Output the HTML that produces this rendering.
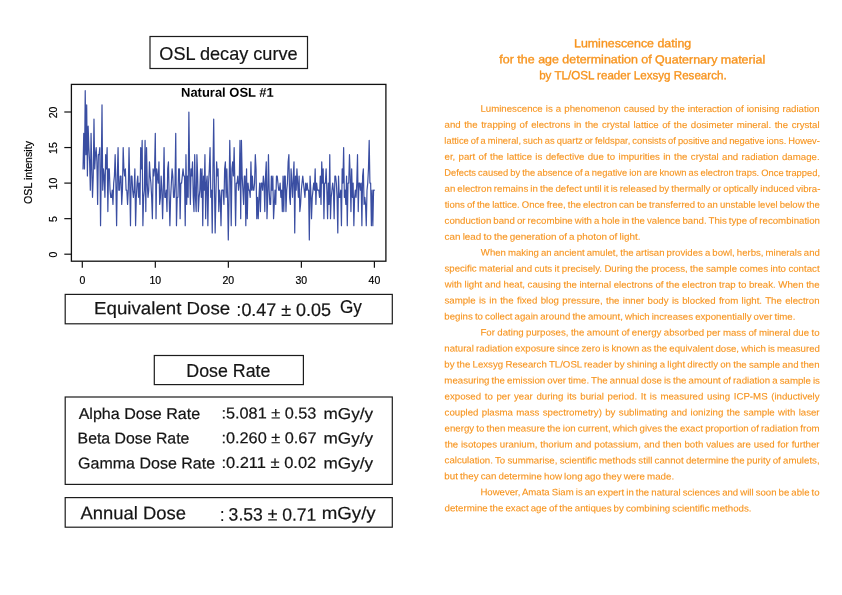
<!DOCTYPE html>
<html lang="en"><head><meta charset="utf-8"><title>OSL decay curve</title>
<style>
html,body{margin:0;padding:0;background:#fff;}
body{width:842px;height:595px;position:relative;overflow:hidden;font-family:"Liberation Sans", sans-serif;}
.t{position:absolute;left:0;top:0;white-space:pre;line-height:1;transform-origin:0 0;}
.b{position:absolute;left:0;top:0;white-space:nowrap;line-height:10px;transform-origin:0 0;color:#f7941e;font-size:9.3px;text-align:justify;text-align-last:justify;word-spacing:-0.06em;-webkit-text-stroke:0.12px #f7941e;}
.bl{text-align:left;text-align-last:left;}
svg text{font-family:"Liberation Sans", sans-serif;}
</style></head><body>
<svg width="842" height="595" viewBox="0 0 842 595" style="position:absolute;left:0;top:0">
<rect x="150.0" y="36.5" width="157.5" height="32.0" fill="none" stroke="#1c1c1c" stroke-width="1.2"/>
<rect x="65.2" y="294.4" width="327.1" height="29.4" fill="none" stroke="#1c1c1c" stroke-width="1.2"/>
<rect x="154.3" y="355.5" width="149.1" height="29.1" fill="none" stroke="#1c1c1c" stroke-width="1.2"/>
<rect x="65.2" y="397.0" width="327.1" height="87.4" fill="none" stroke="#1c1c1c" stroke-width="1.2"/>
<rect x="65.2" y="497.6" width="327.1" height="29.6" fill="none" stroke="#1c1c1c" stroke-width="1.2"/>
<polyline points="83.03,168.88 83.76,133.33 84.49,168.88 85.22,90.67 85.95,154.66 86.68,104.89 87.41,175.99 88.14,126.22 88.87,147.55 89.60,161.77 90.33,190.21 91.06,133.33 91.79,168.88 92.52,197.32 93.25,175.99 93.98,119.11 94.71,168.88 95.44,154.66 96.17,147.55 96.90,161.77 97.63,204.43 98.36,154.66 99.09,154.66 99.82,147.55 100.55,225.76 101.28,168.88 102.01,104.89 102.74,190.21 103.47,168.88 104.20,175.99 104.93,197.32 105.66,154.66 106.39,168.88 107.12,147.55 107.85,211.54 108.58,168.88 109.31,168.88 110.04,190.21 110.77,197.32 111.50,197.32 112.23,190.21 112.96,204.43 113.69,183.10 114.42,175.99 115.15,154.66 115.88,183.10 116.61,225.76 117.34,175.99 118.07,147.55 118.80,190.21 119.53,190.21 120.26,175.99 120.99,175.99 121.72,204.43 122.45,190.21 123.18,147.55 123.91,168.88 124.64,175.99 125.37,168.88 126.10,190.21 126.83,190.21 127.56,204.43 128.29,190.21 129.02,147.55 129.75,183.10 130.48,225.76 131.21,175.99 131.94,175.99 132.67,190.21 133.40,197.32 134.13,190.21 134.86,168.88 135.59,225.76 136.32,197.32 137.05,183.10 137.78,175.99 138.51,197.32 139.24,183.10 139.97,204.43 140.70,147.55 141.43,168.88 142.16,140.44 142.89,225.76 143.62,197.32 144.35,190.21 145.08,140.44 145.81,211.54 146.54,147.55 147.27,183.10 148.00,197.32 148.73,190.21 149.46,161.77 150.19,175.99 150.92,183.10 151.65,197.32 152.38,218.65 153.11,168.88 153.84,175.99 154.57,168.88 155.30,133.33 156.03,218.65 156.76,168.88 157.49,175.99 158.22,183.10 158.95,161.77 159.68,204.43 160.41,197.32 161.14,175.99 161.87,190.21 162.60,218.65 163.33,190.21 164.06,147.55 164.79,197.32 165.52,197.32 166.25,190.21 166.98,211.54 167.71,168.88 168.44,161.77 169.17,197.32 169.90,225.76 170.63,197.32 171.36,183.10 172.09,168.88 172.82,175.99 173.55,197.32 174.28,197.32 175.01,183.10 175.74,133.33 176.47,225.76 177.20,197.32 177.93,197.32 178.66,168.88 179.39,168.88 180.12,218.65 180.85,183.10 181.58,183.10 182.31,175.99 183.04,168.88 183.77,175.99 184.50,175.99 185.23,225.76 185.96,154.66 186.69,204.43 187.42,175.99 188.15,197.32 188.88,112.00 189.61,168.88 190.34,204.43 191.07,168.88 191.80,175.99 192.53,161.77 193.26,197.32 193.99,211.54 194.72,154.66 195.45,197.32 196.18,211.54 196.91,154.66 197.64,175.99 198.37,211.54 199.10,197.32 199.83,190.21 200.56,168.88 201.29,197.32 202.02,168.88 202.75,225.76 203.48,175.99 204.21,190.21 204.94,154.66 205.67,218.65 206.40,183.10 207.13,175.99 207.86,225.76 208.59,183.10 209.32,168.88 210.05,147.55 210.78,197.32 211.51,190.21 212.24,232.87 212.97,168.88 213.70,119.11 214.43,183.10 215.16,232.87 215.89,197.32 216.62,161.77 217.35,175.99 218.08,168.88 218.81,211.54 219.54,190.21 220.27,197.32 221.00,225.76 221.73,190.21 222.46,190.21 223.19,190.21 223.92,204.43 224.65,168.88 225.38,161.77 226.11,197.32 226.84,168.88 227.57,197.32 228.30,239.98 229.03,197.32 229.76,140.44 230.49,175.99 231.22,225.76 231.95,168.88 232.68,161.77 233.41,175.99 234.14,147.55 234.87,183.10 235.60,225.76 236.33,183.10 237.06,183.10 237.79,175.99 238.52,190.21 239.25,183.10 239.98,140.44 240.71,218.65 241.44,140.44 242.17,175.99 242.90,190.21 243.63,204.43 244.36,175.99 245.09,175.99 245.82,225.76 246.55,168.88 247.28,218.65 248.01,183.10 248.74,190.21 249.47,190.21 250.20,197.32 250.93,161.77 251.66,190.21 252.39,175.99 253.12,190.21 253.85,190.21 254.58,183.10 255.31,154.66 256.04,168.88 256.77,218.65 257.50,197.32 258.23,218.65 258.96,197.32 259.69,183.10 260.42,211.54 261.15,183.10 261.88,183.10 262.61,190.21 263.34,175.99 264.07,183.10 264.80,211.54 265.53,175.99 266.26,161.77 266.99,218.65 267.72,197.32 268.45,154.66 269.18,190.21 269.91,204.43 270.64,204.43 271.37,175.99 272.10,190.21 272.83,175.99 273.56,218.65 274.29,204.43 275.02,190.21 275.75,204.43 276.48,175.99 277.21,175.99 277.94,183.10 278.67,190.21 279.40,190.21 280.13,183.10 280.86,197.32 281.59,190.21 282.32,211.54 283.05,175.99 283.78,211.54 284.51,175.99 285.24,175.99 285.97,211.54 286.70,190.21 287.43,183.10 288.16,161.77 288.89,154.66 289.62,197.32 290.35,204.43 291.08,168.88 291.81,183.10 292.54,197.32 293.27,175.99 294.00,161.77 294.73,232.87 295.46,175.99 296.19,190.21 296.92,168.88 297.65,183.10 298.38,197.32 299.11,175.99 299.84,211.54 300.57,204.43 301.30,190.21 302.03,183.10 302.76,175.99 303.49,183.10 304.22,190.21 304.95,197.32 305.68,183.10 306.41,190.21 307.14,183.10 307.87,190.21 308.60,190.21 309.33,239.98 310.06,175.99 310.79,190.21 311.52,218.65 312.25,197.32 312.98,190.21 313.71,183.10 314.44,190.21 315.17,168.88 315.90,204.43 316.63,183.10 317.36,190.21 318.09,190.21 318.82,190.21 319.55,197.32 320.28,175.99 321.01,204.43 321.74,161.77 322.47,183.10 323.20,168.88 323.93,218.65 324.66,183.10 325.39,183.10 326.12,168.88 326.85,190.21 327.58,218.65 328.31,183.10 329.04,204.43 329.77,154.66 330.50,218.65 331.23,197.32 331.96,190.21 332.69,183.10 333.42,190.21 334.15,218.65 334.88,175.99 335.61,175.99 336.34,183.10 337.07,197.32 337.80,232.87 338.53,175.99 339.26,197.32 339.99,197.32 340.72,190.21 341.45,225.76 342.18,168.88 342.91,183.10 343.64,147.55 344.37,197.32 345.10,190.21 345.83,204.43 346.56,175.99 347.29,225.76 348.02,183.10 348.75,183.10 349.48,154.66 350.21,175.99 350.94,211.54 351.67,168.88 352.40,197.32 353.13,183.10 353.86,225.76 354.59,197.32 355.32,190.21 356.05,197.32 356.78,183.10 357.51,154.66 358.24,211.54 358.97,183.10 359.70,183.10 360.43,190.21 361.16,183.10 361.89,225.76 362.62,175.99 363.35,168.88 364.08,204.43 364.81,197.32 365.54,204.43 366.27,225.76 367.00,190.21 367.73,183.10 368.46,168.88 369.19,140.44 369.92,183.10 370.65,183.10 371.38,225.76 372.11,190.21 372.84,225.76 373.57,190.21 374.30,190.21" fill="none" stroke="#3a4ea2" stroke-width="1.2" stroke-linejoin="round" stroke-linecap="round"/>
<rect x="71.4" y="84.4" width="314.5" height="176.8" fill="none" stroke="#111" stroke-width="1.3"/>
<line x1="64.3" y1="254.20" x2="71.4" y2="254.20" stroke="#111" stroke-width="1.2"/>
<text transform="translate(56.6,254.70) rotate(-90)" text-anchor="middle" font-size="10.5" fill="#000" stroke="#000" stroke-width="0.2">0</text>
<line x1="64.3" y1="218.65" x2="71.4" y2="218.65" stroke="#111" stroke-width="1.2"/>
<text transform="translate(56.6,219.15) rotate(-90)" text-anchor="middle" font-size="10.5" fill="#000" stroke="#000" stroke-width="0.2">5</text>
<line x1="64.3" y1="183.10" x2="71.4" y2="183.10" stroke="#111" stroke-width="1.2"/>
<text transform="translate(56.6,183.60) rotate(-90)" text-anchor="middle" font-size="10.5" fill="#000" stroke="#000" stroke-width="0.2">10</text>
<line x1="64.3" y1="147.55" x2="71.4" y2="147.55" stroke="#111" stroke-width="1.2"/>
<text transform="translate(56.6,148.05) rotate(-90)" text-anchor="middle" font-size="10.5" fill="#000" stroke="#000" stroke-width="0.2">15</text>
<line x1="64.3" y1="112.00" x2="71.4" y2="112.00" stroke="#111" stroke-width="1.2"/>
<text transform="translate(56.6,112.50) rotate(-90)" text-anchor="middle" font-size="10.5" fill="#000" stroke="#000" stroke-width="0.2">20</text>
<line x1="82.30" y1="261.2" x2="82.30" y2="267.7" stroke="#111" stroke-width="1.2"/>
<text x="82.30" y="283.7" text-anchor="middle" font-size="10.5" fill="#000" stroke="#000" stroke-width="0.2">0</text>
<line x1="155.32" y1="261.2" x2="155.32" y2="267.7" stroke="#111" stroke-width="1.2"/>
<text x="155.32" y="283.7" text-anchor="middle" font-size="10.5" fill="#000" stroke="#000" stroke-width="0.2">10</text>
<line x1="228.35" y1="261.2" x2="228.35" y2="267.7" stroke="#111" stroke-width="1.2"/>
<text x="228.35" y="283.7" text-anchor="middle" font-size="10.5" fill="#000" stroke="#000" stroke-width="0.2">20</text>
<line x1="301.38" y1="261.2" x2="301.38" y2="267.7" stroke="#111" stroke-width="1.2"/>
<text x="301.38" y="283.7" text-anchor="middle" font-size="10.5" fill="#000" stroke="#000" stroke-width="0.2">30</text>
<line x1="374.40" y1="261.2" x2="374.40" y2="267.7" stroke="#111" stroke-width="1.2"/>
<text x="374.40" y="283.7" text-anchor="middle" font-size="10.5" fill="#000" stroke="#000" stroke-width="0.2">40</text>
<text transform="translate(32.0,172.5) rotate(-90)" text-anchor="middle" font-size="10.65" fill="#000" stroke="#000" stroke-width="0.2">OSL intensity</text>
</svg>
<div class="t" style="line-height:21px;font-size:18.6px;font-weight:400;-webkit-text-stroke:0.2px #141414;color:#141414;transform:translate(159.33px,42.50px) matrix(1,0.0005,0,1,0,0) scaleX(0.9743)">OSL decay curve</div>
<div class="t" style="line-height:15px;font-size:12.9px;font-weight:700;color:#000;transform:translate(181.04px,84.80px) matrix(1,0.0005,0,1,0,0) scaleX(1.0062)">Natural OSL #1</div>
<div class="t" style="line-height:20px;font-size:17.8px;font-weight:400;-webkit-text-stroke:0.2px #141414;color:#141414;transform:translate(94.06px,298.30px) matrix(1,0.0005,0,1,0,0) scaleX(1.0519)">Equivalent Dose</div>
<div class="t" style="line-height:21px;font-size:18.3px;font-weight:400;-webkit-text-stroke:0.2px #141414;color:#141414;transform:translate(236.52px,299.00px) matrix(1,0.0005,0,1,0,0) scaleX(0.9000)">:</div>
<div class="t" style="line-height:21px;font-size:18.3px;font-weight:400;-webkit-text-stroke:0.2px #141414;color:#141414;transform:translate(241.38px,299.00px) matrix(1,0.0005,0,1,0,0) scaleX(0.9808)">0.47 ± 0.05</div>
<div class="t" style="line-height:20px;font-size:17.8px;font-weight:400;-webkit-text-stroke:0.2px #141414;color:#141414;transform:translate(339.94px,296.80px) matrix(1,0.0005,0,1,0,0) scaleX(0.9645)">Gy</div>
<div class="t" style="line-height:21px;font-size:18.7px;font-weight:400;-webkit-text-stroke:0.2px #141414;color:#141414;transform:translate(186.34px,360.10px) matrix(1,0.0005,0,1,0,0) scaleX(0.9521)">Dose Rate</div>
<div class="t" style="line-height:17px;font-size:15.7px;font-weight:400;-webkit-text-stroke:0.2px #141414;color:#141414;transform:translate(78.63px,404.90px) matrix(1,0.0005,0,1,0,0) scaleX(1.0252)">Alpha Dose Rate</div>
<div class="t" style="line-height:17px;font-size:15.7px;font-weight:400;-webkit-text-stroke:0.2px #141414;color:#141414;transform:translate(77.59px,429.40px) matrix(1,0.0005,0,1,0,0) scaleX(1.0095)">Beta Dose Rate</div>
<div class="t" style="line-height:17px;font-size:15.7px;font-weight:400;-webkit-text-stroke:0.2px #141414;color:#141414;transform:translate(78.07px,454.50px) matrix(1,0.0005,0,1,0,0) scaleX(1.0208)">Gamma Dose Rate</div>
<div class="t" style="line-height:17px;font-size:15.8px;font-weight:400;-webkit-text-stroke:0.2px #141414;color:#141414;transform:translate(221.41px,404.40px) matrix(1,0.0005,0,1,0,0) scaleX(1.0311)">:5.081 ± 0.53</div>
<div class="t" style="line-height:17px;font-size:15.8px;font-weight:400;-webkit-text-stroke:0.2px #141414;color:#141414;transform:translate(221.41px,429.20px) matrix(1,0.0005,0,1,0,0) scaleX(1.0320)">:0.260 ± 0.67</div>
<div class="t" style="line-height:17px;font-size:15.8px;font-weight:400;-webkit-text-stroke:0.2px #141414;color:#141414;transform:translate(221.39px,454.00px) matrix(1,0.0005,0,1,0,0) scaleX(1.0429)">:0.211 ± 0.02</div>
<div class="t" style="line-height:17px;font-size:15.7px;font-weight:400;-webkit-text-stroke:0.2px #141414;color:#141414;transform:translate(323.49px,404.90px) matrix(1,0.0005,0,1,0,0) scaleX(1.0970)">mGy/y</div>
<div class="t" style="line-height:17px;font-size:15.7px;font-weight:400;-webkit-text-stroke:0.2px #141414;color:#141414;transform:translate(323.49px,429.60px) matrix(1,0.0005,0,1,0,0) scaleX(1.0970)">mGy/y</div>
<div class="t" style="line-height:17px;font-size:15.7px;font-weight:400;-webkit-text-stroke:0.2px #141414;color:#141414;transform:translate(323.49px,454.40px) matrix(1,0.0005,0,1,0,0) scaleX(1.0970)">mGy/y</div>
<div class="t" style="line-height:21px;font-size:18.3px;font-weight:400;-webkit-text-stroke:0.2px #141414;color:#141414;transform:translate(80.44px,502.30px) matrix(1,0.0005,0,1,0,0) scaleX(1.0080)">Annual Dose</div>
<div class="t" style="line-height:20px;font-size:17.9px;font-weight:400;-webkit-text-stroke:0.2px #141414;color:#141414;transform:translate(220.01px,504.60px) matrix(1,0.0005,0,1,0,0) scaleX(0.9000)">:</div>
<div class="t" style="line-height:20px;font-size:17.9px;font-weight:400;-webkit-text-stroke:0.2px #141414;color:#141414;transform:translate(228.62px,504.60px) matrix(1,0.0005,0,1,0,0) scaleX(0.9810)">3.53 ± 0.71</div>
<div class="t" style="line-height:20px;font-size:17.6px;font-weight:400;-webkit-text-stroke:0.2px #141414;color:#141414;transform:translate(321.70px,502.90px) matrix(1,0.0005,0,1,0,0) scaleX(1.0622)">mGy/y</div>
<div class="t" style="line-height:14px;font-size:11.8px;font-weight:400;-webkit-text-stroke:0.35px #f7941e;color:#f7941e;transform:translate(573.98px,36.30px) matrix(1,0.0005,0,1,0,0) scaleX(1.0521)">Luminescence dating</div>
<div class="t" style="line-height:14px;font-size:11.8px;font-weight:400;-webkit-text-stroke:0.35px #f7941e;color:#f7941e;transform:translate(499.37px,52.30px) matrix(1,0.0005,0,1,0,0) scaleX(1.0555)">for the age determination of Quaternary material</div>
<div class="t" style="line-height:14px;font-size:11.8px;font-weight:400;-webkit-text-stroke:0.35px #f7941e;color:#f7941e;transform:translate(539.13px,68.20px) matrix(1,0.0005,0,1,0,0) scaleX(0.9826)">by TL/OSL reader Lexsyg Research.</div>
<div class="b" style="width:326.15px;transform:translate(480.40px,103.80px) matrix(1,0.0005,0,1,0,0) scaleX(1.0400)">Luminescence is a phenomenon caused by the interaction of ionising radiation</div>
<div class="b" style="width:360.65px;transform:translate(444.52px,119.78px) matrix(1,0.0005,0,1,0,0) scaleX(1.0400)">and the trapping of electrons in the crystal lattice of the dosimeter mineral. the crystal</div>
<div class="b" style="width:373.74px;transform:translate(444.37px,135.76px) matrix(1,0.0005,0,1,0,0) scaleX(1.0040)">lattice of a mineral, such as quartz or feldspar, consists of positive and negative ions. Howev-</div>
<div class="b" style="width:360.63px;transform:translate(444.54px,151.74px) matrix(1,0.0005,0,1,0,0) scaleX(1.0400)">er, part of the lattice is defective due to impurities in the crystal and radiation damage.</div>
<div class="b" style="width:372.59px;transform:translate(444.23px,167.72px) matrix(1,0.0005,0,1,0,0) scaleX(1.0075)">Defects caused by the absence of a negative ion are known as electron traps. Once trapped,</div>
<div class="b" style="width:360.88px;transform:translate(444.52px,183.70px) matrix(1,0.0005,0,1,0,0) scaleX(1.0394)">an electron remains in the defect until it is released by thermally or optically induced vibra-</div>
<div class="b" style="width:366.03px;transform:translate(444.69px,199.68px) matrix(1,0.0005,0,1,0,0) scaleX(1.0242)">tions of the lattice. Once free, the electron can be transferred to an unstable level below the</div>
<div class="b" style="width:361.18px;transform:translate(444.55px,215.66px) matrix(1,0.0005,0,1,0,0) scaleX(1.0384)">conduction band or recombine with a hole in the valence band. This type of recombination</div>
<div class="b bl" style="transform:translate(444.54px,231.64px) matrix(1,0.0005,0,1,0,0) scaleX(1.0635)">can lead to the generation of a photon of light.</div>
<div class="b" style="width:328.43px;transform:translate(480.83px,247.62px) matrix(1,0.0005,0,1,0,0) scaleX(1.0315)">When making an ancient amulet, the artisan provides a bowl, herbs, minerals and</div>
<div class="b" style="width:360.72px;transform:translate(444.45px,263.60px) matrix(1,0.0005,0,1,0,0) scaleX(1.0400)">specific material and cuts it precisely. During the process, the sample comes into contact</div>
<div class="b" style="width:360.42px;transform:translate(444.77px,279.58px) matrix(1,0.0005,0,1,0,0) scaleX(1.0400)">with light and heat, causing the internal electrons of the electron trap to break. When the</div>
<div class="b" style="width:360.72px;transform:translate(444.45px,295.56px) matrix(1,0.0005,0,1,0,0) scaleX(1.0400)">sample is in the fixed blog pressure, the inner body is blocked from light. The electron</div>
<div class="b bl" style="transform:translate(444.35px,311.54px) matrix(1,0.0005,0,1,0,0) scaleX(1.0385)">begins to collect again around the amount, which increases exponentially over time.</div>
<div class="b" style="width:326.15px;transform:translate(480.40px,327.52px) matrix(1,0.0005,0,1,0,0) scaleX(1.0400)">For dating purposes, the amount of energy absorbed per mass of mineral due to</div>
<div class="b" style="width:361.43px;transform:translate(444.34px,343.50px) matrix(1,0.0005,0,1,0,0) scaleX(1.0383)">natural radiation exposure since zero is known as the equivalent dose, which is measured</div>
<div class="b" style="width:360.82px;transform:translate(444.35px,359.48px) matrix(1,0.0005,0,1,0,0) scaleX(1.0400)">by the Lexsyg Research TL/OSL reader by shining a light directly on the sample and then</div>
<div class="b" style="width:361.19px;transform:translate(444.34px,375.46px) matrix(1,0.0005,0,1,0,0) scaleX(1.0390)">measuring the emission over time. The annual dose is the amount of radiation a sample is</div>
<div class="b" style="width:360.63px;transform:translate(444.54px,391.44px) matrix(1,0.0005,0,1,0,0) scaleX(1.0400)">exposed to per year during its burial period. It is measured using ICP-MS (inductively</div>
<div class="b" style="width:360.63px;transform:translate(444.55px,407.42px) matrix(1,0.0005,0,1,0,0) scaleX(1.0400)">coupled plasma mass spectrometry) by sublimating and ionizing the sample with laser</div>
<div class="b" style="width:360.63px;transform:translate(444.54px,423.40px) matrix(1,0.0005,0,1,0,0) scaleX(1.0400)">energy to then measure the ion current, which gives the exact proportion of radiation from</div>
<div class="b" style="width:360.49px;transform:translate(444.69px,439.38px) matrix(1,0.0005,0,1,0,0) scaleX(1.0400)">the isotopes uranium, thorium and potassium, and then both values are used for further</div>
<div class="b" style="width:360.63px;transform:translate(444.55px,455.36px) matrix(1,0.0005,0,1,0,0) scaleX(1.0400)">calculation. To summarise, scientific methods still cannot determine the purity of amulets,</div>
<div class="b bl" style="transform:translate(444.35px,471.34px) matrix(1,0.0005,0,1,0,0) scaleX(1.0504)">but they can determine how long ago they were made.</div>
<div class="b" style="width:328.62px;transform:translate(480.41px,487.32px) matrix(1,0.0005,0,1,0,0) scaleX(1.0322)">However, Amata Siam is an expert in the natural sciences and will soon be able to</div>
<div class="b bl" style="transform:translate(444.53px,503.30px) matrix(1,0.0005,0,1,0,0) scaleX(1.0436)">determine the exact age of the antiques by combining scientific methods.</div>
</body></html>
